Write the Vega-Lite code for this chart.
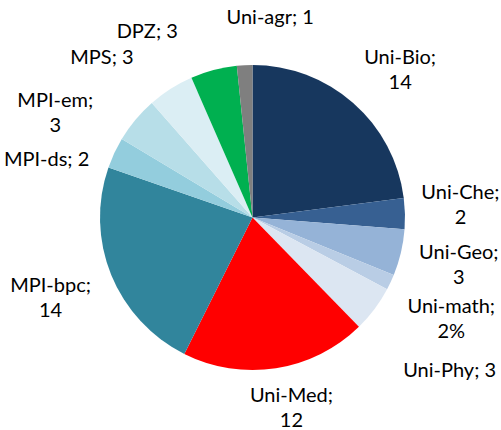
{
  "$schema": "https://vega.github.io/schema/vega-lite/v6.json",
  "width": 497,
  "height": 425,
  "autosize": "none",
  "padding": {"left": 4, "top": 5, "right": 0, "bottom": 0},
  "background": "white",
  "config": {"view": {"stroke": null}},
  "data": {"values": [
    {"i": 1, "name": "Uni-Bio", "v": 14, "label": "Uni-Bio;\n14"},
    {"i": 2, "name": "Uni-Che", "v": 2, "label": "Uni-Che;\n2"},
    {"i": 3, "name": "Uni-Geo", "v": 3, "label": "Uni-Geo;\n3"},
    {"i": 4, "name": "Uni-math", "v": 1, "label": "Uni-math;\n2%"},
    {"i": 5, "name": "Uni-Phy", "v": 3, "label": "Uni-Phy; 3"},
    {"i": 6, "name": "Uni-Med", "v": 12, "label": "Uni-Med;\n12"},
    {"i": 7, "name": "MPI-bpc", "v": 14, "label": "MPI-bpc;\n14"},
    {"i": 8, "name": "MPI-ds", "v": 2, "label": "MPI-ds; 2"},
    {"i": 9, "name": "MPI-em", "v": 3, "label": "MPI-em;\n3"},
    {"i": 10, "name": "MPS", "v": 3, "label": "MPS; 3"},
    {"i": 11, "name": "DPZ", "v": 3, "label": "DPZ; 3"},
    {"i": 12, "name": "Uni-agr", "v": 1, "label": "Uni-agr; 1"}
  ]},
  "encoding": {
    "theta": {"field": "v", "type": "quantitative", "stack": true},
    "order": {"field": "i", "type": "quantitative"}
  },
  "layer": [
    {
      "mark": {"type": "arc", "outerRadius": 152.5},
      "encoding": {
        "color": {
          "field": "name",
          "type": "nominal",
          "legend": null,
          "scale": {
            "domain": ["Uni-Bio", "Uni-Che", "Uni-Geo", "Uni-math", "Uni-Phy", "Uni-Med", "MPI-bpc", "MPI-ds", "MPI-em", "MPS", "DPZ", "Uni-agr"],
            "range": ["#17375E", "#376092", "#95B3D7", "#B9CDE5", "#DCE6F2", "#FF0000", "#31859C", "#93CDDD", "#B7DEE8", "#DBEEF4", "#00B050", "#7F7F7F"]
          }
        }
      }
    },
    {
      "mark": {
        "type": "text",
        "font": "Lato",
        "fontSize": 20,
        "color": "#000000",
        "lineBreak": "\n",
        "lineHeight": 25,
        "align": "center",
        "baseline": "middle",
        "radius": {"expr": "({'Uni-Bio':207,'Uni-Che':211,'Uni-Geo':213,'Uni-math':225,'Uni-Phy':251.5,'Uni-Med':194.5,'MPI-bpc':218,'MPI-ds':213,'MPI-em':223,'MPS':219,'DPZ':213,'Uni-agr':200})[datum.name]"},
        "dx": {"expr": "({'Uni-Bio':11,'Uni-Che':-3,'Uni-Geo':-1,'Uni-math':-5,'Uni-Phy':-4,'Uni-Med':9,'MPI-bpc':0,'MPI-ds':-13,'MPI-em':-26,'MPS':-33,'DPZ':-51,'Uni-agr':28})[datum.name]"},
        "dy": {"expr": "({'Uni-Bio':-4,'Uni-Che':-19,'Uni-Geo':-13,'Uni-math':-6,'Uni-Phy':3,'Uni-Med':-14,'MPI-bpc':-14,'MPI-ds':33,'MPI-em':26,'MPS':25,'DPZ':20,'Uni-agr':0})[datum.name]"}
      },
      "encoding": {
        "text": {"field": "label", "type": "nominal"}
      }
    }
  ]
}
